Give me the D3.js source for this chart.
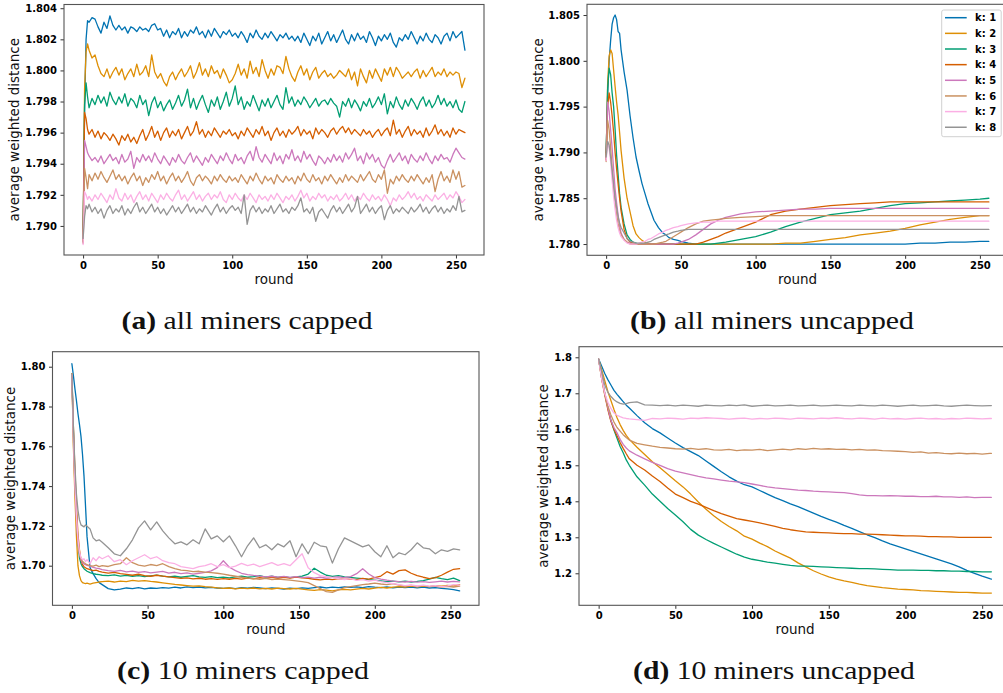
<!DOCTYPE html>
<html><head><meta charset="utf-8">
<script src="https://cdn.jsdelivr.net/npm/d3@7"></script>
<style>body{margin:0;background:#fff}svg{display:block}</style>
</head><body>
<svg id="chart" width="1003" height="693"></svg>
<script>
const colors = ["#0173b2","#de8f05","#029e73","#d55e00","#cc78bc","#ca9161","#fbafe4","#949494"];
const seriesNames = ["k: 1","k: 2","k: 3","k: 4","k: 5","k: 6","k: 7","k: 8"];
const xTicks = [0,50,100,150,200,250];
const yTicksA = [1.790,1.792,1.794,1.796,1.798,1.800,1.802,1.804];
const yTicksB = [1.780,1.785,1.790,1.795,1.800,1.805];
const yTicksC = [1.70,1.72,1.74,1.76,1.78,1.80];
const yTicksD = [1.2,1.3,1.4,1.5,1.6,1.7,1.8];
const captions = [["(a)"," all miners capped"],["(b)"," all miners uncapped"],["(c)"," 10 miners capped"],["(d)"," 10 miners uncapped"]];

// ---- (a) all miners capped ----
const roundsA = [0,1,2,3].concat(d3.range(4,257,2));
const a_k1 = [1.7892,1.7975,1.8020,1.8032,
1.8031,1.8034,1.8033,1.8028,1.8024,1.8031,1.8027,1.8035,1.8029,1.8026,
1.8029,1.8026,1.8028,1.8024,1.8028,1.8027,1.8025,1.8028,1.8026,1.8027,
1.8025,1.8029,1.8030,1.8026,1.8027,1.8022,1.8026,1.8021,1.8025,1.8023,
1.8027,1.8021,1.8025,1.8022,1.8026,1.8024,1.8028,1.8023,1.8025,1.8021,
1.8026,1.8022,1.8027,1.8024,1.8021,1.8025,1.8023,1.8026,1.8022,1.8024,
1.8021,1.8025,1.8022,1.8018,1.8024,1.8021,1.8026,1.8022,1.8020,1.8024,
1.8021,1.8025,1.8022,1.8019,1.8023,1.8021,1.8024,1.8020,1.8022,1.8019,
1.8022,1.8018,1.8024,1.8020,1.8016,1.8022,1.8019,1.8024,1.8017,1.8021,
1.8025,1.8019,1.8023,1.8018,1.8022,1.8026,1.8020,1.8017,1.8023,1.8019,
1.8024,1.8020,1.8022,1.8018,1.8025,1.8021,1.8016,1.8022,1.8019,1.8023,
1.8020,1.8024,1.8018,1.8015,1.8021,1.8019,1.8023,1.8020,1.8025,1.8021,
1.8017,1.8022,1.8019,1.8024,1.8020,1.8018,1.8023,1.8021,1.8017,1.8022,
1.8024,1.8019,1.8025,1.8021,1.8023,1.8025,1.8013];
const a_k2 = [1.7890,1.7988,1.8012,1.8017,
1.8013,1.8008,1.8010,1.8003,1.7998,1.7996,1.8001,1.7995,1.7999,1.8002,
1.7997,1.8001,1.7994,1.7998,1.8001,1.7996,1.8004,1.7997,1.7999,1.8003,
1.7996,1.8010,1.7999,1.7995,1.7998,1.7993,1.7990,1.7996,1.7999,1.7994,
1.7998,1.8001,1.7996,1.7999,1.8003,1.7995,1.7999,1.8005,1.7997,1.8001,
1.7996,1.8003,1.7998,1.8000,1.7995,1.8001,1.7997,1.7992,1.7994,1.7998,
1.8004,1.7997,1.8001,1.7995,1.8006,1.7998,1.8002,1.7996,1.8007,1.8000,
1.7995,1.8001,1.7997,1.8003,1.8002,1.7998,1.8009,1.8001,1.7996,1.7993,
1.7999,1.8003,1.7997,1.8001,1.7994,1.7999,1.8002,1.7995,1.7998,1.8000,
1.7996,1.7998,1.7995,1.7997,1.8000,1.7998,1.7996,1.8001,1.7994,1.7999,
1.7990,1.8001,1.7996,1.7992,1.8000,1.7995,1.8001,1.7997,1.7993,1.8001,
1.7997,1.8002,1.7996,1.8002,1.7999,1.7995,1.7997,1.7999,1.7996,1.7999,
1.8001,1.7995,1.8000,1.7996,1.7999,1.8002,1.7996,1.7999,1.7997,1.8001,
1.7996,1.7999,1.7997,1.7999,1.7998,1.7989,1.7995];
const a_k3 = [1.7890,1.7978,1.7992,1.7983,
1.7976,1.7982,1.7978,1.7984,1.7979,1.7983,1.7977,1.7986,1.7981,1.7978,
1.7983,1.7979,1.7985,1.7977,1.7982,1.7980,1.7976,1.7984,1.7978,1.7981,
1.7971,1.7979,1.7983,1.7976,1.7980,1.7974,1.7978,1.7981,1.7975,1.7979,
1.7984,1.7977,1.7981,1.7988,1.7976,1.7982,1.7975,1.7980,1.7984,1.7978,
1.7973,1.7981,1.7977,1.7983,1.7975,1.7980,1.7986,1.7977,1.7982,1.7990,
1.7978,1.7983,1.7975,1.7980,1.7977,1.7984,1.7979,1.7974,1.7981,1.7977,
1.7982,1.7976,1.7980,1.7984,1.7978,1.7975,1.7989,1.7979,1.7983,1.7977,
1.7981,1.7978,1.7983,1.7980,1.7976,1.7979,1.7982,1.7977,1.7980,1.7981,
1.7978,1.7982,1.7979,1.7977,1.7970,1.7980,1.7977,1.7982,1.7976,1.7981,
1.7978,1.7974,1.7980,1.7977,1.7982,1.7976,1.7979,1.7983,1.7978,1.7985,
1.7972,1.7980,1.7976,1.7983,1.7978,1.7975,1.7981,1.7977,1.7982,1.7979,
1.7975,1.7980,1.7983,1.7977,1.7981,1.7976,1.7979,1.7984,1.7978,1.7982,
1.7977,1.7980,1.7976,1.7981,1.7975,1.7973,1.7980];
const a_k4 = [1.7890,1.7973,1.7969,1.7962,
1.7959,1.7962,1.7957,1.7961,1.7956,1.7960,1.7958,1.7955,1.7959,1.7956,
1.7952,1.7958,1.7955,1.7959,1.7954,1.7957,1.7953,1.7958,1.7962,1.7955,
1.7959,1.7964,1.7957,1.7961,1.7955,1.7960,1.7963,1.7957,1.7961,1.7958,
1.7962,1.7956,1.7960,1.7964,1.7958,1.7961,1.7967,1.7959,1.7962,1.7957,
1.7961,1.7958,1.7963,1.7960,1.7957,1.7961,1.7959,1.7962,1.7958,1.7960,
1.7956,1.7961,1.7958,1.7963,1.7960,1.7957,1.7962,1.7959,1.7964,1.7958,
1.7961,1.7955,1.7960,1.7963,1.7958,1.7961,1.7957,1.7962,1.7959,1.7961,
1.7964,1.7958,1.7962,1.7959,1.7961,1.7956,1.7963,1.7959,1.7962,1.7960,
1.7957,1.7961,1.7963,1.7959,1.7962,1.7964,1.7960,1.7963,1.7959,1.7962,
1.7960,1.7958,1.7962,1.7959,1.7961,1.7957,1.7960,1.7962,1.7958,1.7961,
1.7963,1.7958,1.7968,1.7959,1.7962,1.7957,1.7961,1.7964,1.7958,1.7962,
1.7959,1.7961,1.7957,1.7963,1.7958,1.7961,1.7965,1.7959,1.7962,1.7958,
1.7961,1.7957,1.7963,1.7959,1.7962,1.7961,1.7960];
const a_k5 = [1.7889,1.7955,1.7951,1.7947,
1.7945,1.7942,1.7944,1.7941,1.7945,1.7940,1.7943,1.7946,1.7942,1.7944,
1.7940,1.7946,1.7941,1.7943,1.7948,1.7937,1.7944,1.7941,1.7946,1.7942,
1.7945,1.7941,1.7947,1.7943,1.7940,1.7945,1.7942,1.7939,1.7944,1.7941,
1.7946,1.7942,1.7940,1.7944,1.7947,1.7941,1.7945,1.7942,1.7939,1.7944,
1.7941,1.7946,1.7943,1.7940,1.7945,1.7942,1.7947,1.7943,1.7940,1.7946,
1.7942,1.7944,1.7940,1.7945,1.7948,1.7942,1.7951,1.7944,1.7941,1.7946,
1.7943,1.7940,1.7947,1.7942,1.7945,1.7940,1.7946,1.7943,1.7949,1.7942,
1.7945,1.7941,1.7948,1.7943,1.7946,1.7942,1.7939,1.7945,1.7943,1.7940,
1.7944,1.7941,1.7946,1.7942,1.7945,1.7941,1.7947,1.7943,1.7946,1.7950,
1.7942,1.7945,1.7940,1.7947,1.7943,1.7946,1.7941,1.7944,1.7939,1.7937,
1.7942,1.7946,1.7941,1.7944,1.7947,1.7942,1.7945,1.7940,1.7946,1.7943,
1.7941,1.7945,1.7942,1.7947,1.7943,1.7940,1.7945,1.7942,1.7946,1.7943,
1.7944,1.7941,1.7946,1.7950,1.7947,1.7944,1.7943];
const a_k6 = [1.7889,1.7937,1.7931,1.7924,
1.7933,1.7929,1.7934,1.7930,1.7935,1.7931,1.7928,1.7932,1.7936,1.7930,
1.7933,1.7929,1.7932,1.7927,1.7931,1.7934,1.7929,1.7932,1.7926,1.7931,
1.7928,1.7933,1.7930,1.7935,1.7929,1.7932,1.7927,1.7931,1.7934,1.7929,
1.7932,1.7928,1.7931,1.7935,1.7929,1.7926,1.7931,1.7933,1.7929,1.7932,
1.7930,1.7927,1.7932,1.7929,1.7933,1.7930,1.7928,1.7932,1.7929,1.7931,
1.7928,1.7933,1.7930,1.7927,1.7932,1.7929,1.7934,1.7930,1.7927,1.7932,
1.7929,1.7931,1.7927,1.7933,1.7930,1.7928,1.7932,1.7929,1.7931,1.7927,
1.7932,1.7929,1.7934,1.7930,1.7928,1.7933,1.7929,1.7931,1.7927,1.7932,
1.7929,1.7933,1.7930,1.7927,1.7931,1.7928,1.7933,1.7929,1.7932,1.7930,
1.7928,1.7933,1.7929,1.7932,1.7935,1.7930,1.7928,1.7933,1.7930,1.7936,
1.7921,1.7930,1.7927,1.7932,1.7929,1.7933,1.7930,1.7928,1.7932,1.7929,
1.7933,1.7930,1.7927,1.7931,1.7928,1.7933,1.7922,1.7930,1.7935,1.7929,
1.7932,1.7928,1.7936,1.7930,1.7935,1.7925,1.7926];
const a_k7 = [1.7888,1.7922,1.7920,1.7917,
1.7919,1.7916,1.7920,1.7917,1.7921,1.7918,1.7915,1.7920,1.7917,1.7924,
1.7918,1.7916,1.7921,1.7917,1.7920,1.7915,1.7919,1.7922,1.7917,1.7920,
1.7916,1.7921,1.7918,1.7915,1.7920,1.7917,1.7921,1.7918,1.7916,1.7920,
1.7923,1.7917,1.7920,1.7916,1.7919,1.7922,1.7917,1.7920,1.7916,1.7919,
1.7921,1.7917,1.7920,1.7918,1.7922,1.7917,1.7915,1.7920,1.7917,1.7921,
1.7918,1.7916,1.7920,1.7917,1.7921,1.7918,1.7915,1.7920,1.7917,1.7919,
1.7916,1.7920,1.7917,1.7921,1.7918,1.7915,1.7919,1.7917,1.7920,1.7916,
1.7919,1.7923,1.7918,1.7921,1.7916,1.7919,1.7917,1.7921,1.7918,1.7920,
1.7916,1.7919,1.7917,1.7920,1.7916,1.7918,1.7921,1.7917,1.7920,1.7916,
1.7919,1.7917,1.7921,1.7918,1.7916,1.7920,1.7917,1.7919,1.7916,1.7920,
1.7917,1.7913,1.7918,1.7916,1.7920,1.7917,1.7919,1.7922,1.7918,1.7921,
1.7917,1.7919,1.7916,1.7920,1.7918,1.7916,1.7920,1.7917,1.7919,1.7921,
1.7917,1.7920,1.7918,1.7922,1.7919,1.7915,1.7917];
const a_k8 = [1.7892,1.7906,1.7913,1.7911,
1.7914,1.7909,1.7912,1.7908,1.7911,1.7905,1.7910,1.7913,1.7908,1.7911,
1.7909,1.7913,1.7907,1.7911,1.7908,1.7912,1.7915,1.7909,1.7912,1.7908,
1.7911,1.7914,1.7909,1.7912,1.7908,1.7911,1.7907,1.7910,1.7913,1.7909,
1.7912,1.7908,1.7911,1.7914,1.7909,1.7912,1.7908,1.7911,1.7909,1.7913,
1.7910,1.7907,1.7911,1.7914,1.7909,1.7912,1.7908,1.7911,1.7913,1.7910,
1.7912,1.7908,1.7920,1.7901,1.7910,1.7913,1.7909,1.7912,1.7908,1.7911,
1.7909,1.7913,1.7908,1.7911,1.7914,1.7909,1.7911,1.7908,1.7912,1.7910,
1.7913,1.7918,1.7909,1.7911,1.7908,1.7912,1.7903,1.7909,1.7911,1.7908,
1.7905,1.7910,1.7913,1.7909,1.7912,1.7908,1.7911,1.7914,1.7909,1.7912,
1.7919,1.7908,1.7911,1.7914,1.7909,1.7912,1.7908,1.7911,1.7913,1.7904,
1.7910,1.7913,1.7908,1.7911,1.7909,1.7912,1.7910,1.7908,1.7912,1.7909,
1.7911,1.7914,1.7909,1.7912,1.7908,1.7911,1.7913,1.7909,1.7912,1.7908,
1.7911,1.7909,1.7913,1.7910,1.7919,1.7909,1.7910];

// ---- (b) all miners uncapped ----
const roundsB = [0,1,2,3,4,5,6,7,8,9,10,12,14,16,18,20,22,24,26,28,30,32,35,38,40,42,45,48,50,55,60,65,70,75,80,90,100,110,120,130,140,150,160,170,180,190,200,210,220,230,240,250,256];
const b_k1 = [1.7900,1.7962,1.8000,1.8022,1.8040,1.8047,1.8050,1.8045,1.8032,1.8030,1.8012,
1.7988,1.7968,1.7940,1.7916,1.7895,1.7880,1.7866,1.7855,1.7844,1.7835,1.7826,
1.7818,1.7812,1.7810,1.7807,1.7805,1.7804,1.7803,
1.7801,1.7800,1.7800,1.7800,1.7800,1.7800,
1.7800,1.7800,1.7800,1.7800,1.7800,1.7800,1.7800,1.7800,1.7800,1.7800,1.7800,1.7800,1.7801,1.7801,1.7802,1.7802,1.7803,
1.7803];
const b_k2 = [1.7895,1.7975,1.8005,1.8012,1.8008,1.7990,1.7972,1.7955,1.7941,1.7922,1.7902,
1.7872,1.7850,1.7835,1.7820,1.7811,1.7807,1.7804,1.7802,1.7801,1.7800,1.7800,
1.7800,1.7800,1.7800,1.7800,1.7800,1.7800,1.7800,
1.7800,1.7800,1.7800,1.7800,1.7800,1.7800,
1.7800,1.7800,1.7800,1.7801,1.7801,1.7803,1.7805,1.7807,1.7810,1.7812,1.7814,1.7817,1.7821,1.7824,1.7827,1.7829,1.7831,
1.7831];
const b_k3 = [1.7895,1.7970,1.7992,1.7985,1.7965,1.7950,1.7925,1.7897,1.7876,1.7855,1.7840,
1.7822,1.7810,1.7805,1.7802,1.7801,1.7800,1.7800,1.7800,1.7800,1.7800,1.7800,
1.7800,1.7800,1.7800,1.7800,1.7800,1.7800,1.7800,
1.7800,1.7800,1.7800,1.7800,1.7801,1.7802,
1.7805,1.7808,1.7813,1.7819,1.7824,1.7828,1.7832,1.7834,1.7836,1.7839,1.7842,1.7844,1.7845,1.7846,1.7847,1.7848,1.7849,
1.7850];
const b_k4 = [1.7892,1.7950,1.7965,1.7955,1.7940,1.7922,1.7900,1.7882,1.7866,1.7850,1.7836,
1.7816,1.7806,1.7802,1.7801,1.7800,1.7800,1.7800,1.7800,1.7800,1.7800,1.7800,
1.7800,1.7800,1.7800,1.7800,1.7800,1.7800,1.7800,
1.7800,1.7800,1.7802,1.7805,1.7808,1.7812,
1.7818,1.7824,1.7832,1.7836,1.7838,1.7840,1.7842,1.7843,1.7844,1.7845,1.7846,1.7846,1.7846,1.7846,1.7846,1.7846,1.7846,
1.7846];
const b_k5 = [1.7892,1.7955,1.7945,1.7925,1.7905,1.7882,1.7860,1.7845,1.7832,1.7820,1.7812,
1.7805,1.7802,1.7801,1.7800,1.7800,1.7800,1.7800,1.7800,1.7800,1.7800,1.7800,
1.7800,1.7800,1.7800,1.7800,1.7800,1.7801,1.7802,
1.7805,1.7810,1.7816,1.7822,1.7826,1.7829,
1.7833,1.7835,1.7836,1.7837,1.7838,1.7838,1.7839,1.7839,1.7839,1.7839,1.7839,1.7839,1.7839,1.7839,1.7839,1.7839,1.7839,
1.7839];
const b_k6 = [1.7890,1.7935,1.7925,1.7905,1.7882,1.7862,1.7845,1.7832,1.7822,1.7815,1.7810,
1.7805,1.7802,1.7800,1.7800,1.7800,1.7800,1.7800,1.7800,1.7800,1.7800,1.7800,
1.7801,1.7802,1.7803,1.7805,1.7808,1.7811,1.7813,
1.7818,1.7822,1.7825,1.7826,1.7827,1.7828,
1.7829,1.7830,1.7831,1.7831,1.7831,1.7831,1.7831,1.7831,1.7831,1.7831,1.7831,1.7831,1.7831,1.7831,1.7831,1.7831,1.7831,
1.7831];
const b_k7 = [1.7891,1.7912,1.7905,1.7890,1.7870,1.7852,1.7838,1.7826,1.7818,1.7812,1.7808,
1.7804,1.7801,1.7800,1.7800,1.7800,1.7801,1.7802,1.7803,1.7805,1.7806,1.7808,
1.7811,1.7813,1.7815,1.7816,1.7818,1.7819,1.7820,
1.7822,1.7823,1.7824,1.7824,1.7825,1.7825,
1.7825,1.7825,1.7825,1.7825,1.7825,1.7825,1.7825,1.7825,1.7825,1.7825,1.7825,1.7825,1.7825,1.7825,1.7825,1.7825,1.7825,
1.7825];
const b_k8 = [1.7895,1.7912,1.7908,1.7895,1.7880,1.7865,1.7850,1.7840,1.7830,1.7823,1.7818,
1.7812,1.7806,1.7803,1.7802,1.7801,1.7801,1.7801,1.7801,1.7802,1.7803,1.7805,
1.7807,1.7809,1.7810,1.7811,1.7813,1.7814,1.7815,
1.7816,1.7816,1.7816,1.7816,1.7816,1.7816,
1.7816,1.7816,1.7816,1.7816,1.7816,1.7816,1.7816,1.7816,1.7816,1.7816,1.7816,1.7816,1.7816,1.7816,1.7816,1.7816,1.7816,
1.7816];

// ---- (c) 10 miners capped ----
const roundsC = [0,1,2,3,4,5,6,7,8,9,10,12,14,16,18].concat(d3.range(20,257,4));
const c_k1 = [1.8015,1.7955,1.7890,1.7830,1.7765,1.7710,1.7650,1.7560,1.7450,1.7300,1.7146,1.6990,1.6960,1.6935,1.6915,
1.6905,1.6885,1.6878,1.6882,1.6888,1.6885,1.6890,1.6884,1.6888,1.6886,
1.6890,1.6887,1.6892,1.6888,1.6894,1.6890,1.6893,1.6889,1.6891,1.6888,
1.6886,1.6889,1.6885,1.6890,1.6887,1.6891,1.6888,1.6885,1.6889,1.6886,
1.6883,1.6887,1.6885,1.6889,1.6886,1.6890,1.6893,1.6889,1.6892,1.6890,
1.6893,1.6891,1.6894,1.6890,1.6895,1.6892,1.6890,1.6893,1.6889,1.6892,
1.6890,1.6893,1.6889,1.6892,1.6888,1.6890,1.6886,1.6884,1.6880,1.6874];
const c_k2 = [1.7965,1.7600,1.7350,1.7150,1.7000,1.6950,1.6925,1.6915,1.6912,1.6910,1.6912,1.6908,1.6912,1.6915,1.6918,
1.6920,1.6922,1.6918,1.6923,1.6920,1.6926,1.6922,1.6925,1.6921,1.6918,
1.6914,1.6910,1.6906,1.6903,1.6900,1.6897,1.6899,1.6895,1.6892,1.6889,
1.6886,1.6888,1.6884,1.6887,1.6885,1.6888,1.6884,1.6886,1.6883,1.6887,
1.6885,1.6883,1.6886,1.6882,1.6879,1.6876,1.6880,1.6877,1.6874,1.6879,
1.6881,1.6878,1.6882,1.6886,1.6883,1.6887,1.6891,1.6888,1.6892,1.6895,
1.6893,1.6897,1.6894,1.6898,1.6895,1.6900,1.6897,1.6901,1.6899,1.6905];
const c_k3 = [1.7960,1.7680,1.7450,1.7260,1.7120,1.7040,1.7010,1.6995,1.6985,1.6978,1.6972,1.6965,1.6960,1.6957,1.6955,
1.6952,1.6950,1.6954,1.6948,1.6951,1.6947,1.6950,1.6945,1.6949,1.6953,
1.6948,1.6944,1.6947,1.6942,1.6946,1.6950,1.6944,1.6941,1.6945,1.6940,
1.6943,1.6939,1.6944,1.6947,1.6942,1.6945,1.6950,1.6943,1.6947,1.6941,
1.6945,1.6940,1.6944,1.6948,1.6958,1.6987,1.6968,1.6952,1.6946,1.6950,
1.6944,1.6941,1.6938,1.6935,1.6930,1.6927,1.6924,1.6920,1.6923,1.6919,
1.6922,1.6918,1.6921,1.6925,1.6932,1.6941,1.6935,1.6930,1.6938,1.6925];
const c_k4 = [1.7962,1.7700,1.7480,1.7300,1.7160,1.7080,1.7030,1.7005,1.6995,1.6990,1.6985,1.6980,1.6975,1.6978,1.6972,
1.6968,1.6963,1.6966,1.6960,1.6956,1.6952,1.6957,1.6950,1.6947,1.6952,
1.6948,1.6944,1.6940,1.6936,1.6939,1.6934,1.6937,1.6932,1.6935,1.6931,
1.6935,1.6932,1.6936,1.6933,1.6938,1.6934,1.6940,1.6936,1.6941,1.6937,
1.6942,1.6938,1.6943,1.6939,1.6936,1.6932,1.6929,1.6933,1.6930,1.6935,
1.6931,1.6934,1.6930,1.6936,1.6933,1.6940,1.6948,1.6970,1.6958,1.6975,
1.6979,1.6962,1.6950,1.6942,1.6935,1.6940,1.6952,1.6968,1.6982,1.6985];
const c_k5 = [1.7958,1.7650,1.7420,1.7250,1.7120,1.7060,1.7030,1.7015,1.7008,1.7005,1.7002,1.6998,1.6992,1.6988,1.6985,
1.6980,1.6975,1.6971,1.6976,1.6969,1.6973,1.6966,1.6970,1.6964,1.6968,
1.6972,1.6963,1.6967,1.6960,1.6964,1.6958,1.6962,1.6966,1.6974,1.6990,
1.7025,1.6992,1.6975,1.6962,1.6955,1.6951,1.6948,1.6944,1.6947,1.6943,
1.6946,1.6941,1.6945,1.6940,1.6943,1.6938,1.6942,1.6937,1.6941,1.6944,
1.6940,1.6945,1.6960,1.6985,1.6958,1.6940,1.6932,1.6927,1.6923,1.6920,
1.6918,1.6921,1.6917,1.6920,1.6916,1.6919,1.6922,1.6918,1.6921,1.6919];
const c_k6 = [1.7963,1.7620,1.7400,1.7240,1.7120,1.7060,1.7035,1.7022,1.7015,1.7010,1.7005,1.7000,1.6998,1.7003,1.6995,
1.7000,1.6996,1.7005,1.7010,1.7040,1.7015,1.7003,1.6998,1.7006,1.7000,
1.7010,1.6995,1.6985,1.6978,1.6975,1.6970,1.6972,1.6968,1.6965,1.6962,
1.6958,1.6952,1.6947,1.6942,1.6938,1.6935,1.6932,1.6936,1.6930,1.6933,
1.6930,1.6927,1.6924,1.6920,1.6915,1.6900,1.6885,1.6870,1.6866,1.6878,
1.6890,1.6895,1.6900,1.6905,1.6908,1.6912,1.6908,1.6905,1.6910,1.6902,
1.6898,1.6901,1.6896,1.6900,1.6895,1.6898,1.6892,1.6896,1.6893,1.6897];
const c_k7 = [1.7960,1.7650,1.7420,1.7250,1.7130,1.7070,1.7040,1.7030,1.7035,1.7020,1.7030,1.7010,1.7040,1.7025,1.7045,
1.7035,1.7050,1.7020,1.7030,1.7005,1.7025,1.7040,1.7055,1.7035,1.7045,
1.7025,1.7015,1.7010,1.6995,1.6990,1.6985,1.6995,1.7000,1.7010,1.6995,
1.7005,1.6990,1.6998,1.7012,1.7000,1.7008,1.6995,1.7005,1.7015,1.7002,
1.7010,1.7000,1.7030,1.7060,1.6990,1.6965,1.6950,1.6945,1.6940,1.6935,
1.6930,1.6935,1.6926,1.6930,1.6922,1.6928,1.6920,1.6915,1.6910,1.6905,
1.6900,1.6903,1.6898,1.6902,1.6897,1.6900,1.6895,1.6899,1.6905,1.6902];
const c_k8 = [1.7965,1.7700,1.7500,1.7360,1.7280,1.7230,1.7205,1.7200,1.7195,1.7205,1.7198,1.7185,1.7140,1.7125,1.7130,
1.7118,1.7090,1.7060,1.7050,1.7085,1.7130,1.7190,1.7225,1.7180,1.7220,
1.7175,1.7140,1.7110,1.7120,1.7105,1.7130,1.7110,1.7185,1.7135,1.7150,
1.7120,1.7150,1.7100,1.7045,1.7100,1.7140,1.7090,1.7105,1.7080,1.7110,
1.7095,1.7125,1.7045,1.7110,1.7060,1.7118,1.7100,1.7095,1.7013,1.7085,
1.7140,1.7125,1.7110,1.7095,1.7105,1.7070,1.7045,1.7100,1.7040,1.7065,
1.7055,1.7080,1.7115,1.7090,1.7085,1.7060,1.7080,1.7072,1.7085,1.7080];

// ---- (d) 10 miners uncapped ----
const roundsD = d3.range(0,21,2).concat(d3.range(25,256,5)).concat([256]);
const d_k1 = [1.795,1.775,1.755,1.738,1.723,1.708,1.697,1.687,1.677,1.667,1.659,
1.638,1.618,1.602,1.590,1.576,1.562,1.549,1.538,1.527,1.512,
1.497,1.482,1.468,1.456,1.446,1.440,1.430,1.420,1.410,1.402,
1.393,1.385,1.376,1.367,1.358,1.350,1.342,1.333,1.325,1.316,
1.307,1.299,1.290,1.282,1.275,1.268,1.261,1.254,1.247,1.240,
1.233,1.226,1.218,1.208,1.200,1.192,1.185,
1.184];
const d_k2 = [1.795,1.765,1.735,1.705,1.680,1.655,1.632,1.613,1.597,1.583,1.572,
1.550,1.530,1.510,1.493,1.475,1.457,1.440,1.420,1.398,1.378,
1.360,1.344,1.330,1.318,1.303,1.295,1.284,1.274,1.262,1.252,
1.242,1.229,1.218,1.207,1.198,1.190,1.184,1.179,1.175,1.170,
1.166,1.163,1.160,1.158,1.156,1.155,1.154,1.152,1.151,1.150,
1.149,1.148,1.147,1.147,1.146,1.145,1.145,
1.145];
const d_k3 = [1.795,1.745,1.700,1.660,1.625,1.598,1.575,1.552,1.535,1.515,1.500,
1.468,1.445,1.420,1.400,1.380,1.362,1.343,1.322,1.306,1.294,
1.283,1.273,1.263,1.253,1.245,1.239,1.235,1.231,1.228,1.225,
1.222,1.220,1.220,1.219,1.218,1.217,1.216,1.215,1.214,1.213,
1.213,1.212,1.211,1.210,1.209,1.209,1.209,1.208,1.208,1.207,
1.207,1.206,1.206,1.205,1.205,1.204,1.204,
1.204];
const d_k4 = [1.795,1.740,1.695,1.655,1.622,1.600,1.582,1.563,1.547,1.532,1.518,
1.500,1.487,1.470,1.455,1.437,1.420,1.410,1.400,1.392,1.383,
1.374,1.366,1.359,1.352,1.348,1.344,1.340,1.335,1.330,1.325,
1.321,1.318,1.315,1.314,1.313,1.312,1.311,1.310,1.310,1.309,
1.309,1.308,1.307,1.306,1.305,1.304,1.304,1.303,1.302,1.302,
1.301,1.301,1.300,1.300,1.300,1.300,1.300,
1.300];
const d_k5 = [1.795,1.745,1.700,1.660,1.625,1.605,1.590,1.572,1.558,1.548,1.540,
1.528,1.518,1.508,1.500,1.491,1.484,1.479,1.474,1.469,1.465,
1.462,1.459,1.456,1.454,1.452,1.448,1.444,1.440,1.437,1.435,
1.433,1.431,1.430,1.428,1.427,1.426,1.425,1.424,1.421,1.418,
1.416,1.416,1.415,1.416,1.415,1.414,1.414,1.413,1.413,1.414,
1.412,1.412,1.411,1.412,1.410,1.411,1.411,
1.411];
const d_k6 = [1.795,1.740,1.700,1.665,1.640,1.620,1.605,1.595,1.585,1.577,1.570,
1.561,1.557,1.553,1.550,1.548,1.546,1.545,1.547,1.544,1.546,
1.543,1.542,1.544,1.541,1.543,1.542,1.544,1.541,1.543,1.545,
1.543,1.546,1.544,1.547,1.545,1.546,1.544,1.545,1.543,1.544,
1.542,1.543,1.541,1.540,1.539,1.538,1.536,1.537,1.534,1.535,
1.533,1.532,1.534,1.532,1.533,1.531,1.533,
1.533];
const d_k7 = [1.795,1.740,1.700,1.675,1.658,1.645,1.639,1.635,1.632,1.630,1.629,
1.627,1.625,1.630,1.629,1.631,1.630,1.628,1.631,1.630,1.632,
1.631,1.630,1.628,1.630,1.631,1.628,1.630,1.629,1.631,1.630,
1.628,1.631,1.630,1.629,1.631,1.630,1.632,1.630,1.629,1.631,
1.630,1.628,1.631,1.629,1.630,1.628,1.630,1.631,1.629,1.630,
1.628,1.630,1.629,1.631,1.630,1.629,1.630,
1.630];
const d_k8 = [1.795,1.760,1.723,1.703,1.691,1.682,1.676,1.672,1.670,1.671,1.674,
1.676,1.668,1.667,1.666,1.667,1.665,1.667,1.666,1.664,1.667,
1.666,1.665,1.667,1.666,1.668,1.664,1.666,1.667,1.665,1.666,
1.667,1.665,1.666,1.667,1.665,1.666,1.667,1.666,1.665,1.667,
1.666,1.665,1.667,1.666,1.664,1.666,1.667,1.665,1.666,1.667,
1.665,1.664,1.666,1.667,1.666,1.665,1.666,
1.666];

// ---- layout ----
const panels = [
  {rounds: roundsA, series: [a_k1,a_k2,a_k3,a_k4,a_k5,a_k6,a_k7,a_k8], yDomain:[1.78813,1.80424], yTicks:yTicksA, fmt:".3f",
   l:64, r:484, t:4.5, b:255, ylabX:15, capX:247, capY:328.5, capW:251},
  {rounds: roundsB, series: [b_k1,b_k2,b_k3,b_k4,b_k5,b_k6,b_k7,b_k8], yDomain:[1.77877,1.80617], yTicks:yTicksB, fmt:".3f",
   l:587, r:1008, t:4.3, b:255.3, ylabX:538.3, capX:772, capY:328.5, capW:284, legend:true},
  {rounds: roundsC, series: [c_k1,c_k2,c_k3,c_k4,c_k5,c_k6,c_k7,c_k8], yDomain:[1.6801,1.80754], yTicks:yTicksC, fmt:".2f",
   l:52.5, r:479, t:351.7, b:605.3, ylabX:10.3, capX:243, capY:679, capW:252},
  {rounds: roundsD, series: [d_k1,d_k2,d_k3,d_k4,d_k5,d_k6,d_k7,d_k8], yDomain:[1.1111,1.8294], yTicks:yTicksD, fmt:".1f",
   l:579, r:1011, t:346.7, b:605.3, ylabX:543.3, capX:774, capY:679, capW:282}
];

const svg = d3.select("#chart");
const SANS = "'DejaVu Sans', sans-serif";

panels.forEach((p, pi) => {
  const x = d3.scaleLinear().domain([-12.8, 268.8]).range([p.l, p.r]);
  const y = d3.scaleLinear().domain(p.yDomain).range([p.b, p.t]);
  const g = svg.append("g");

  const line = d3.line().defined(d => d[1] != null && !isNaN(d[1])).x(d => x(d[0])).y(d => y(d[1]));
  p.series.forEach((vals, i) => {
    const pts = p.rounds.map((r, j) => [r, vals[j]]);
    g.append("path").attr("d", line(pts)).attr("fill", "none")
      .attr("stroke", colors[i]).attr("stroke-width", 1.3)
      .attr("stroke-linejoin", "round").attr("stroke-linecap", "round");
  });

  const xa = g.append("g").attr("transform", `translate(0,${p.b})`)
    .call(d3.axisBottom(x).tickValues(xTicks).tickSize(3.5).tickPadding(3).tickFormat(d3.format("d")));
  const ya = g.append("g").attr("transform", `translate(${p.l},0)`)
    .call(d3.axisLeft(y).tickValues(p.yTicks).tickSize(3.5).tickPadding(3.5).tickFormat(d3.format(p.fmt)));
  [xa, ya].forEach(a => {
    a.select(".domain").remove();
    a.selectAll(".tick line").attr("stroke", "#333").attr("stroke-width", 1);
    a.selectAll(".tick text").attr("fill", "#000").style("font-family", SANS)
      .style("font-size", "10px").style("font-weight", "bold");
  });

  // frame
  g.append("rect").attr("x", p.l).attr("y", p.t).attr("width", p.r - p.l).attr("height", p.b - p.t)
    .attr("fill", "none").attr("stroke", "#555").attr("stroke-width", 1.1);

  g.append("text").attr("x", (p.l + p.r) / 2).attr("y", p.b + 28.7).attr("text-anchor", "middle")
    .style("font-family", SANS).style("font-size", "13.5px").attr("fill", "#111").text("round");

  g.append("text").attr("transform", `translate(${p.ylabX},${(p.t + p.b) / 2}) rotate(-90)`)
    .attr("dy", "0.32em").attr("text-anchor", "middle")
    .style("font-family", SANS).style("font-size", "13.5px").attr("fill", "#111").text("average weighted distance");

  if (p.legend) {
    const lx = 941.7, ly = 10, lw = 59.5, lh = 126.7;
    g.append("rect").attr("x", lx).attr("y", ly).attr("width", lw).attr("height", lh).attr("rx", 2)
      .attr("fill", "#fff").attr("fill-opacity", 0.8).attr("stroke", "#d0d0d0").attr("stroke-width", 1);
    seriesNames.forEach((nm, i) => {
      const yy = 17.7 + i * 15.65;
      g.append("line").attr("x1", 945).attr("x2", 966.7).attr("y1", yy).attr("y2", yy)
        .attr("stroke", colors[i]).attr("stroke-width", 1.5);
      g.append("text").attr("x", 975).attr("y", yy).attr("dy", "0.36em")
        .style("font-family", SANS).style("font-size", "10px").style("font-weight", "bold")
        .attr("fill", "#000").text(nm);
    });
  }

  // caption
  const cap = svg.append("text").attr("text-anchor", "middle")
    .style("font-family", "'Liberation Serif', 'Times New Roman', serif").style("font-size", "25px").attr("fill", "#111");
  cap.append("tspan").style("font-weight", "bold").text(captions[pi][0]);
  cap.append("tspan").text(captions[pi][1]);
  const w = cap.node().getComputedTextLength();
  const sx = w > 0 ? p.capW / w : 1;
  cap.attr("transform", `translate(${p.capX},${p.capY}) scale(${sx},1)`);
});
</script>
</body></html>
